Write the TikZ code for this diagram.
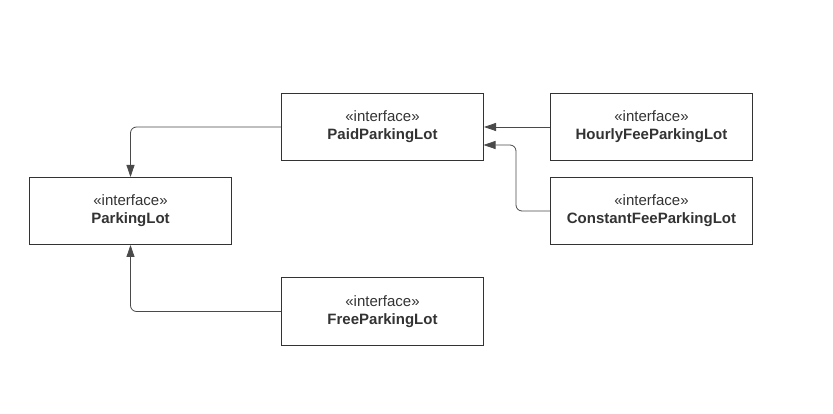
\documentclass[tikz,border=0pt]{standalone}
\usepackage{fontspec}
\setmainfont{Liberation Sans}
\usetikzlibrary{arrows.meta}
\definecolor{inkgray}{HTML}{333333}
\definecolor{linegray}{HTML}{4A4A4A}
\begin{document}
\begin{tikzpicture}[x=1pt, y=-1pt,
        iface/.style={draw=inkgray, line width=1pt, minimum width=202pt, minimum height=67pt,
            align=center, text=inkgray, inner sep=0pt,
            font=\fontsize{15}{17.7}\selectfont},
        impl/.style={draw=linegray, line width=0.8pt, rounded corners=6pt,
            -{Triangle[length=12pt, width=8pt]}}]
            \useasboundingbox (0, 0) rectangle (833, 414);

            \node[iface] (parking) at (130.5, 211) {«interface»\\\textbf{ParkingLot}};
            \node[iface] (paid) at (382.5, 127) {«interface»\\\textbf{PaidParkingLot}};
            \node[iface] (free) at (382.5, 311.5) {«interface»\\\textbf{FreeParkingLot}};
            \node[iface] (hourly) at (651.5, 127) {«interface»\\\textbf{HourlyFeeParkingLot}};
            \node[iface] (constant) at (651.5, 211) {«interface»\\\textbf{ConstantFeeParkingLot}};

            \coordinate (paidin) at (483.5, 145);

            \draw[impl] (paid.west) -| (parking.north);
            \draw[impl] (free.west) -| (parking.south);
            \draw[impl] (hourly.west) to (paid.east);
            \draw[impl] (constant.west) -- ++(-34, 0) |- (paidin);
        \end{tikzpicture}
\end{document}
